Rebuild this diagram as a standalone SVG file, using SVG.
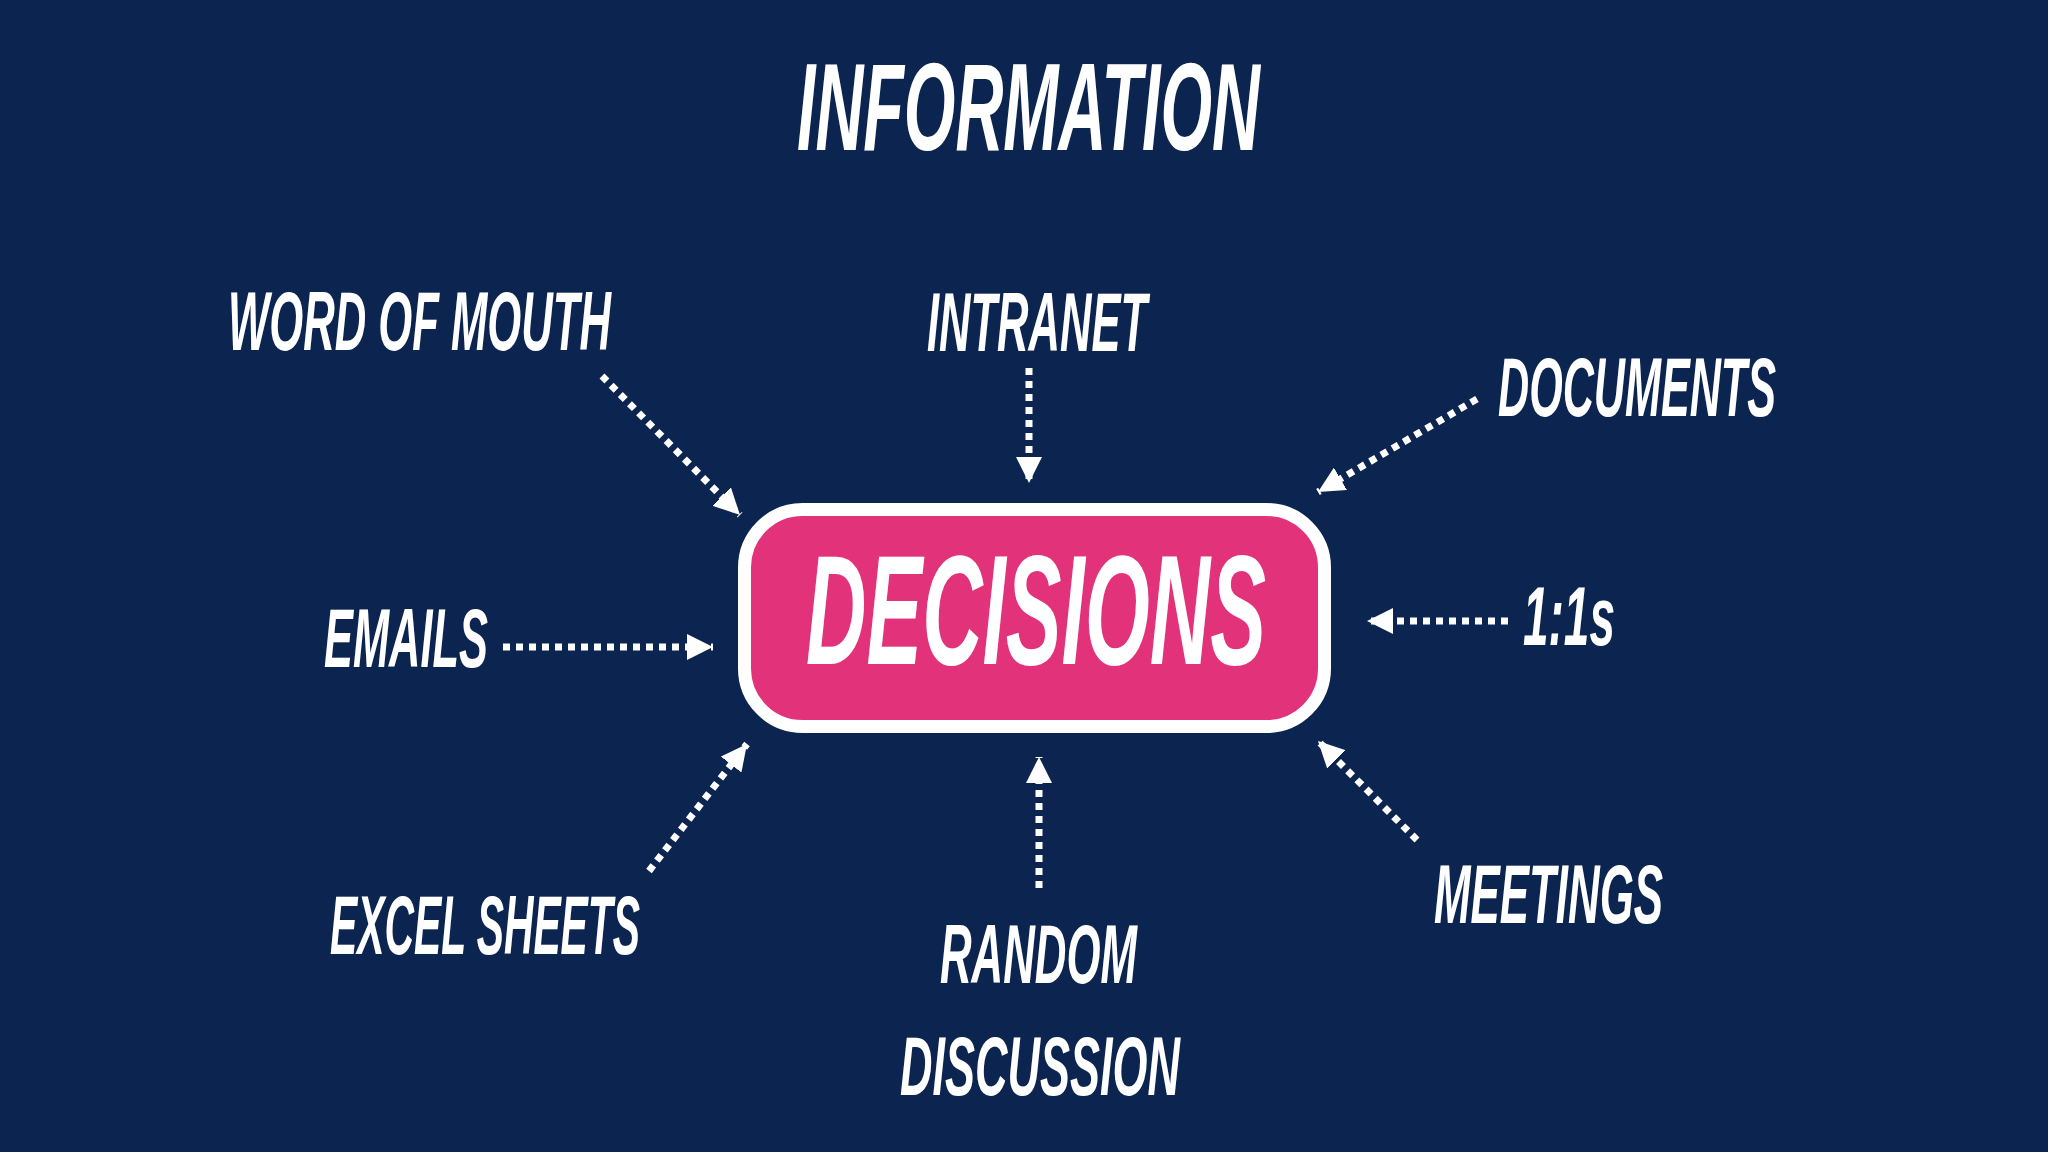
<svg xmlns="http://www.w3.org/2000/svg" width="2048" height="1152" viewBox="0 0 2048 1152">
<defs>
<style>
.lbl{font-family:"Liberation Sans","DejaVu Sans",sans-serif;font-weight:bold;font-style:italic;fill:#ffffff;font-size:84px}
.conn{stroke:#ffffff;stroke-width:7;stroke-dasharray:7 6;fill:none;stroke-linecap:butt}
</style>
<marker id="ah" viewBox="0 0 26 26" refX="26" refY="13" markerWidth="26" markerHeight="26" markerUnits="userSpaceOnUse" orient="auto">
<path d="M0,0 L26,13 L0,26 Z" fill="#ffffff"/>
</marker>
</defs>
<rect x="0" y="0" width="2048" height="1152" fill="#0C2550"/>
<g id="title">
<text class="lbl" x="797" y="150" style="font-size:124px" textLength="463" lengthAdjust="spacingAndGlyphs">INFORMATION</text>
</g>
<g id="decisions">
<rect x="744.5" y="509.5" width="580" height="217" rx="58" ry="58" fill="#E2327A" stroke="#ffffff" stroke-width="13"/>
<text class="lbl" x="806" y="664" style="font-size:156px" textLength="460" lengthAdjust="spacingAndGlyphs">DECISIONS</text>
</g>
<g id="word-of-mouth"><text class="lbl" x="228" y="350" textLength="383" lengthAdjust="spacingAndGlyphs">WORD OF MOUTH</text></g>
<g id="intranet"><text class="lbl" x="927" y="351" textLength="220" lengthAdjust="spacingAndGlyphs">INTRANET</text></g>
<g id="documents"><text class="lbl" x="1498" y="416" textLength="278" lengthAdjust="spacingAndGlyphs">DOCUMENTS</text></g>
<g id="emails"><text class="lbl" x="324" y="667" textLength="164" lengthAdjust="spacingAndGlyphs">EMAILS</text></g>
<g id="one-on-ones"><text class="lbl" x="1523" y="645" textLength="92" lengthAdjust="spacingAndGlyphs">1:1s</text></g>
<g id="excel-sheets"><text class="lbl" x="330" y="954" textLength="310" lengthAdjust="spacingAndGlyphs">EXCEL SHEETS</text></g>
<g id="meetings"><text class="lbl" x="1434" y="923" textLength="229" lengthAdjust="spacingAndGlyphs">MEETINGS</text></g>
<g id="random-discussion">
<text class="lbl" x="940" y="983" textLength="197" lengthAdjust="spacingAndGlyphs">RANDOM</text>
<text class="lbl" x="900" y="1095" textLength="280" lengthAdjust="spacingAndGlyphs">DISCUSSION</text>
</g>
<g id="connectors">
<line class="conn" x1="602" y1="376" x2="740" y2="515" marker-end="url(#ah)"/>
<line class="conn" x1="1029" y1="368" x2="1029" y2="483" marker-end="url(#ah)"/>
<line class="conn" x1="1477" y1="399" x2="1318" y2="492" marker-end="url(#ah)"/>
<line class="conn" x1="503" y1="647" x2="713" y2="647" marker-end="url(#ah)"/>
<line class="conn" x1="1508" y1="621" x2="1367" y2="621" marker-end="url(#ah)"/>
<line class="conn" x1="649" y1="871" x2="747" y2="744" marker-end="url(#ah)"/>
<line class="conn" x1="1039" y1="888" x2="1039" y2="757" marker-end="url(#ah)"/>
<line class="conn" x1="1417" y1="840" x2="1318" y2="741" marker-end="url(#ah)"/>
</g>
</svg>
